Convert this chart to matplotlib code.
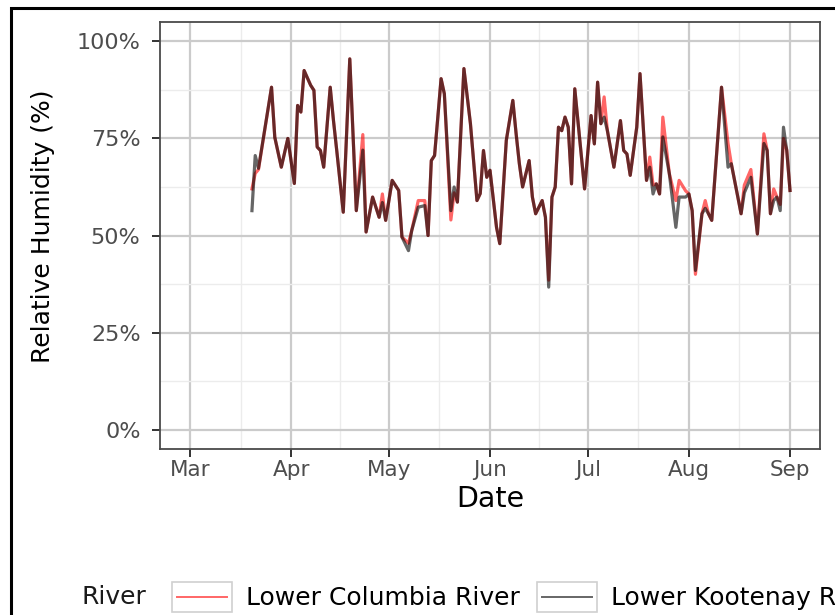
import matplotlib
matplotlib.use("Agg")
import matplotlib.pyplot as plt
import matplotlib.dates as mdates
import numpy as np
from matplotlib.patches import Rectangle
from matplotlib.lines import Line2D
from matplotlib.legend_handler import HandlerBase
from matplotlib.ticker import PercentFormatter, FixedLocator

# daily relative humidity (%), same sampling days for both rivers
dates = ["2019-03-20", "2019-03-21", "2019-03-22", "2019-03-26", "2019-03-27",
         "2019-03-29", "2019-03-31", "2019-04-02", "2019-04-03", "2019-04-04",
         "2019-04-05", "2019-04-07", "2019-04-08", "2019-04-09", "2019-04-10",
         "2019-04-11", "2019-04-13", "2019-04-14", "2019-04-15", "2019-04-17",
         "2019-04-19", "2019-04-21", "2019-04-23", "2019-04-24", "2019-04-26",
         "2019-04-28", "2019-04-29", "2019-04-30", "2019-05-02", "2019-05-04",
         "2019-05-05", "2019-05-07", "2019-05-08", "2019-05-10", "2019-05-12",
         "2019-05-13", "2019-05-14", "2019-05-15", "2019-05-17", "2019-05-18",
         "2019-05-20", "2019-05-21", "2019-05-22", "2019-05-24", "2019-05-26",
         "2019-05-28", "2019-05-29", "2019-05-30", "2019-05-31", "2019-06-01",
         "2019-06-03", "2019-06-04", "2019-06-06", "2019-06-08", "2019-06-09",
         "2019-06-10", "2019-06-11", "2019-06-13", "2019-06-14", "2019-06-15",
         "2019-06-17", "2019-06-18", "2019-06-19", "2019-06-20", "2019-06-21",
         "2019-06-22", "2019-06-23", "2019-06-24", "2019-06-25", "2019-06-26",
         "2019-06-27", "2019-06-30", "2019-07-02", "2019-07-03", "2019-07-04",
         "2019-07-05", "2019-07-06", "2019-07-07", "2019-07-09", "2019-07-11",
         "2019-07-12", "2019-07-13", "2019-07-14", "2019-07-16", "2019-07-17",
         "2019-07-19", "2019-07-20", "2019-07-21", "2019-07-22", "2019-07-23",
         "2019-07-24", "2019-07-26", "2019-07-28", "2019-07-29", "2019-07-31",
         "2019-08-01", "2019-08-02", "2019-08-03", "2019-08-05", "2019-08-06",
         "2019-08-07", "2019-08-08", "2019-08-11", "2019-08-13", "2019-08-14",
         "2019-08-17", "2019-08-18", "2019-08-20", "2019-08-22", "2019-08-24",
         "2019-08-25", "2019-08-26", "2019-08-27", "2019-08-28", "2019-08-29",
         "2019-08-30", "2019-08-31", "2019-09-01"]

kootenay = [56.4, 70.6, 67.3, 88.2, 75.3, 67.6, 75.0, 63.4, 83.5, 81.8,
            92.5, 88.7, 87.4, 72.8, 71.9, 67.6, 88.2, 79.6, 71.9, 56.0,
            95.5, 56.4, 72.0, 50.9, 59.9, 54.7, 58.5, 53.9, 64.2, 61.6,
            49.6, 46.1, 51.3, 57.3, 57.7, 50.0, 69.3, 70.6, 90.4, 86.5,
            56.4, 62.5, 58.6, 93.0, 78.8, 59.0, 60.8, 71.9, 65.0, 66.8,
            52.1, 47.9, 74.5, 84.8, 76.3, 68.5, 62.5, 69.3, 59.9, 55.6,
            59.0, 54.7, 36.7, 59.9, 62.5, 77.9, 77.0, 80.5, 77.9, 63.3,
            87.8, 62.0, 80.9, 73.6, 89.5, 78.8, 80.5, 77.0, 67.6, 79.6,
            71.9, 71.0, 65.5, 77.9, 91.7, 64.2, 67.6, 60.7, 63.3, 60.7,
            75.4, 65.9, 52.1, 59.9, 59.9, 60.7, 56.4, 41.0, 55.6, 57.0,
            55.6, 53.9, 88.2, 67.6, 68.5, 55.6, 61.0, 65.0, 50.4, 73.7,
            71.9, 55.6, 59.0, 59.9, 56.4, 77.9, 71.9, 61.6]

columbia = [62.0, 66.0, 67.0, 88.2, 75.3, 67.6, 75.0, 63.4, 83.5, 81.8,
            92.5, 88.7, 87.4, 72.8, 71.9, 67.6, 88.2, 79.6, 71.9, 56.0,
            95.5, 56.4, 76.0, 50.9, 59.9, 54.7, 60.7, 53.9, 64.2, 61.6,
            49.6, 48.0, 51.3, 59.0, 59.0, 50.0, 69.3, 70.6, 90.4, 86.5,
            54.0, 61.0, 58.6, 93.0, 78.8, 59.0, 60.8, 71.9, 65.0, 66.8,
            52.1, 47.9, 74.5, 84.8, 76.3, 68.5, 62.5, 69.3, 59.9, 55.6,
            59.0, 54.7, 38.5, 59.9, 62.5, 77.9, 77.0, 80.5, 77.9, 63.3,
            87.8, 62.0, 80.9, 73.6, 89.5, 78.8, 85.7, 77.0, 67.6, 79.6,
            71.9, 71.0, 65.5, 77.9, 91.7, 64.2, 70.2, 63.0, 63.3, 60.7,
            80.5, 65.9, 59.0, 64.2, 61.5, 60.7, 56.4, 40.0, 55.6, 59.0,
            55.6, 53.9, 88.2, 73.7, 68.5, 55.6, 63.0, 67.0, 50.4, 76.2,
            71.9, 55.6, 62.0, 59.9, 58.0, 75.0, 72.0, 61.6]

rivers = ["Lower Columbia River", "Lower Kootenay River"]
series = [columbia, kootenay]
colors = ["#ff0000", "#000000"]

month_ticks = ["2019-03-01", "2019-04-01", "2019-05-01", "2019-06-01",
               "2019-07-01", "2019-08-01", "2019-09-01"]
pct_ticks = [0, 25, 50, 75, 100]

W, H = 835, 615
fig = plt.figure(figsize=(W / 100, H / 100), dpi=100)
ax = fig.add_axes([160 / W, 1 - 449 / H, 660 / W, 427 / H])

x = mdates.date2num(np.array(dates, dtype="datetime64[D]"))
for name, vals, col in zip(rivers, series, colors):
    ax.plot(x, vals, color=col, alpha=0.6, lw=2.3, label=name,
            solid_joinstyle="round")

# axis limits with ggplot style 5% expansion
mt = mdates.date2num(np.array(month_ticks, dtype="datetime64[D]"))
span = mt[-1] - mt[0]
ax.set_xlim(mt[0] - 0.05 * span, mt[-1] + 0.05 * span)
ax.set_ylim(-5, 105)

ax.xaxis.set_major_locator(FixedLocator(mt))
ax.xaxis.set_major_formatter(mdates.DateFormatter("%b"))
ax.xaxis.set_minor_locator(FixedLocator((mt[:-1] + mt[1:]) / 2))
ax.yaxis.set_major_locator(FixedLocator(pct_ticks))
ax.yaxis.set_minor_locator(FixedLocator([12.5, 37.5, 62.5, 87.5]))
ax.yaxis.set_major_formatter(PercentFormatter(xmax=100, decimals=0))

ax.grid(which="major", color="#cbcbcb", lw=1.6)
ax.grid(which="minor", color="#ececec", lw=1.0)
ax.set_axisbelow(True)
for s in ax.spines.values():
    s.set_color("#4a4a4a")
    s.set_linewidth(1.3)

ax.tick_params(which="major", length=6, width=1.4, color="#333333",
               labelcolor="#4d4d4d", labelsize=16)
ax.tick_params(axis="y", pad=8)
ax.tick_params(axis="x", labelsize=15.5, pad=2)
ax.tick_params(which="minor", length=0)

fig.text(43 / W, 1 - 226 / H, "Relative Humidity (%)", rotation=90,
         ha="center", va="center", fontsize=18)
fig.text(490 / W, 1 - 499 / H, "Date", ha="center", va="center",
         fontsize=20.5)


class BoxedLine(HandlerBase):
    def create_artists(self, legend, orig, xdescent, ydescent, width,
                       height, fontsize, trans):
        box = Rectangle((-xdescent, -ydescent), width, height, fc="white",
                        ec="#d0d0d0", lw=1.2, transform=trans)
        y0 = height / 2 - ydescent
        ln = Line2D([-xdescent + 0.08 * width, -xdescent + 0.92 * width],
                    [y0, y0], color=orig.get_color(), alpha=orig.get_alpha(),
                    lw=1.4, transform=trans)
        return [box, ln]


handles, labels = ax.get_legend_handles_labels()
fig.legend(handles, labels, loc="center left",
           bbox_to_anchor=(172 / W, 1 - 597 / H), ncol=2, frameon=False,
           fontsize=18, handlelength=2.4, handleheight=1.5,
           handletextpad=0.55, columnspacing=0.7, borderpad=0,
           borderaxespad=0, handler_map={Line2D: BoxedLine()})
fig.text(82 / W, 1 - 597 / H, "River", ha="left", va="center",
         fontsize=18, color="#1a1a1a")

# black frame around the figure
fig.patches.append(Rectangle((11 / W, -0.1), 1.2, 1.1 - 8 / H,
                             transform=fig.transFigure, fill=False,
                             ec="black", lw=2.2))

fig.savefig("out.png", dpi=100)
